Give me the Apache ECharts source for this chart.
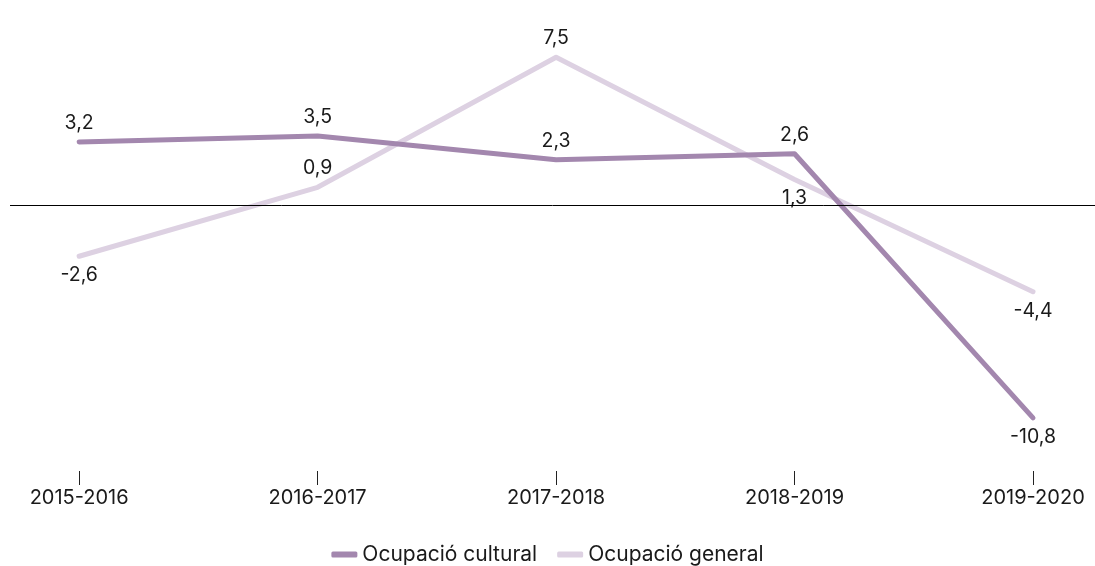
<!DOCTYPE html>
<html>
<head>
<meta charset="utf-8">
<script src="https://cdn.jsdelivr.net/npm/echarts@6/dist/echarts.min.js"></script>
<style>html,body{margin:0;padding:0;background:#fff}#c{width:1095px;height:566px}</style>
</head>
<body>
<div id="c"></div>
<script>
const categories = ['2015-2016', '2016-2017', '2017-2018', '2018-2019', '2019-2020'];
const cultural = [3.2, 3.5, 2.3, 2.6, -10.8];
const general = [-2.6, 0.9, 7.5, 1.3, -4.4];
const seriesNames = ['Ocupació cultural', 'Ocupació general'];
const generalLabelAbove = [false, true, true, false, false];

const fmt = v => String(v).replace('.', ',');
const pairs = arr => arr.map((v, i) => [i, v]);
const FONT = 'Inter';
const labelBase = {show: true, fontFamily: FONT, fontSize: 19.5, color: '#1a1a1a', distance: 9,
  formatter: p => fmt(p.value[1])};

const chart = echarts.init(document.getElementById('c'), null, {renderer: 'canvas'});
chart.setOption({
  animation: false,
  backgroundColor: '#fff',
  grid: {left: 10, right: 0, top: 8, bottom: 95},
  xAxis: {
    type: 'value', min: -0.29, max: 4.26,
    axisLine: {show: false, onZero: false},
    splitLine: {show: false},
    axisTick: {show: true, length: 14, customValues: [0, 1, 2, 3, 4], lineStyle: {color: '#222', width: 1}},
    axisLabel: {customValues: [0, 1, 2, 3, 4], margin: 17, fontFamily: FONT, fontSize: 20, color: '#1a1a1a',
      formatter: v => categories[Math.round(v)]}
  },
  yAxis: {type: 'value', min: -13.5, max: 10, show: false},
  legend: {
    top: 539, left: 'center',
    icon: 'roundRect', itemWidth: 26, itemHeight: 6, itemGap: 20,
    textStyle: {fontFamily: FONT, fontSize: 21, color: '#1a1a1a'},
    data: seriesNames
  },
  series: [
    {
      name: seriesNames[1], type: 'line', symbol: 'circle', symbolSize: 0, z: 2,
      lineStyle: {color: '#ddd1e2', width: 5, cap: 'round', join: 'round'},
      itemStyle: {color: '#ddd1e2'},
      label: labelBase,
      data: pairs(general).map((d, i) => ({value: d, label: {position: generalLabelAbove[i] ? 'top' : 'bottom'}}))
    },
    {
      name: seriesNames[0], type: 'line', symbol: 'circle', symbolSize: 0, z: 3,
      lineStyle: {color: '#a387ae', width: 5, cap: 'round', join: 'round'},
      itemStyle: {color: '#a387ae'},
      label: labelBase,
      data: pairs(cultural).map((d, i) => ({value: d, label: {position: d[1] < 0 ? 'bottom' : 'top'}})),
      markLine: {
        silent: true, symbol: ['none', 'none'], animation: false,
        lineStyle: {color: '#000', width: 1, type: 'solid'},
        label: {show: false},
        data: [{yAxis: 0}]
      }
    }
  ]
});
</script>
</body>
</html>
